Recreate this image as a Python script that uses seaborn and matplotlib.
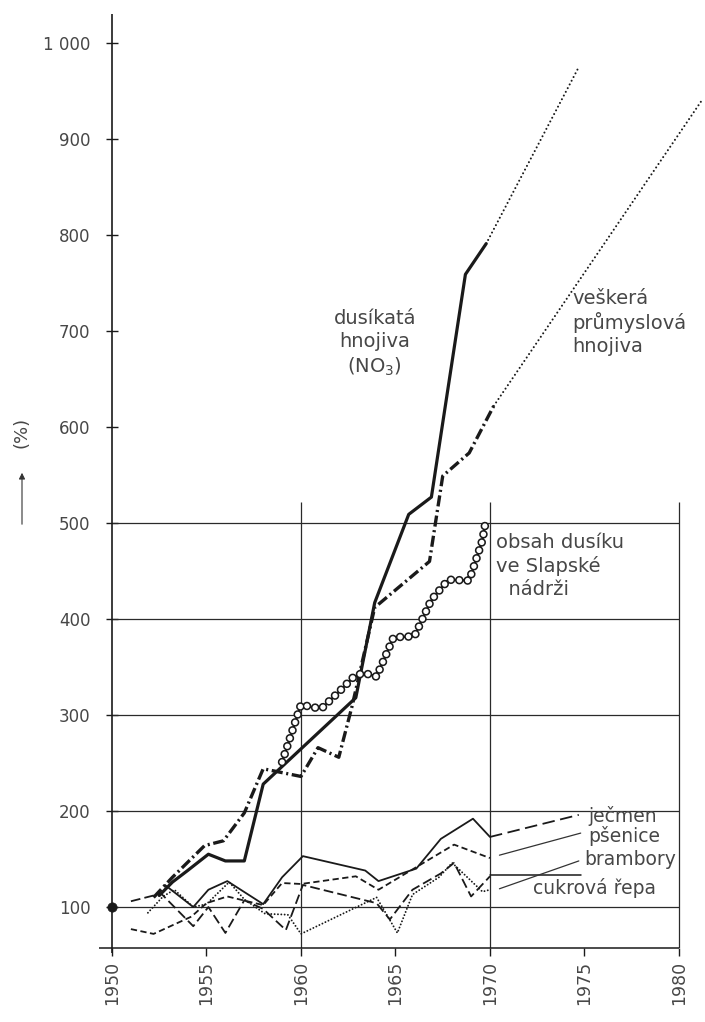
import matplotlib
matplotlib.use("Agg")
import matplotlib.pyplot as plt
import seaborn as sns

# ---------------- data (index, 1950 = 100 %) ----------------
base_year = [1950]
base_val = [100]

no3_years = [1952.5, 1953.2, 1954.0, 1955.1, 1956.0, 1957.0, 1958.0, 1962.9, 1963.9, 1965.7, 1966.9, 1968.7, 1969.8]
no3_vals = [112, 126, 138, 155, 148, 148, 228, 318, 417, 509, 527, 759, 791]
no3_proj_years = [1969.8, 1974.7]
no3_proj_vals = [791, 975]

all_years = [1952.2, 1953.2, 1954.9, 1955.9, 1957.0, 1958.0, 1960.0, 1960.9, 1962.0, 1962.7, 1963.9, 1966.8, 1967.5, 1968.9, 1970.2]
all_vals = [110, 131, 164, 169, 198, 244, 236, 266, 256, 309, 412, 460, 549, 573, 622]
all_proj_years = [1970.2, 1981.2]
all_proj_vals = [622, 940]

res_years = [1959.0, 1960.0, 1960.6, 1961.1, 1962.0, 1962.8, 1963.3, 1964.0, 1964.9, 1966.0, 1966.9, 1967.8, 1968.9, 1969.6, 1969.8]
res_vals = [251, 311, 308, 307, 324, 340, 344, 340, 381, 382, 420, 441, 440, 482, 505]

barley_years = [1952.8, 1954.3, 1955.1, 1956.1, 1958.0, 1959.0, 1960.1, 1963.4, 1964.1, 1966.1, 1967.4, 1969.1, 1970.0]
barley_vals = [123, 100, 118, 127, 103, 131, 153, 138, 127, 140, 171, 192, 173]
barley_ext_years = [1970.0, 1974.7]
barley_ext_vals = [173, 196]

wheat_years = [1951.0, 1952.2, 1953.2, 1954.2, 1955.0, 1956.1, 1958.0, 1959.0, 1960.0, 1962.9, 1964.1, 1968.1, 1970.0]
wheat_vals = [77, 72, 81, 90, 104, 111, 102, 125, 124, 132, 118, 165, 151]
wheat_lead_years = [1970.5, 1974.8]
wheat_lead_vals = [154, 177]

potato_years = [1951.0, 1952.6, 1954.3, 1955.1, 1956.0, 1957.0, 1958.0, 1959.2, 1960.1, 1964.0, 1964.7, 1965.9, 1967.4, 1968.1, 1969.0, 1970.0]
potato_vals = [106, 114, 80, 100, 73, 107, 98, 76, 123, 104, 87, 118, 135, 146, 111, 132]
potato_ext_years = [1970.0, 1974.8]
potato_ext_vals = [133, 133]

beet_years = [1951.9, 1952.7, 1953.3, 1954.3, 1955.0, 1956.2, 1957.0, 1958.1, 1959.3, 1960.0, 1964.0, 1965.1, 1965.9, 1967.3, 1968.0, 1969.6, 1970.0]
beet_vals = [94, 111, 118, 100, 103, 126, 108, 93, 92, 72, 110, 73, 113, 131, 146, 116, 118]
beet_lead_years = [1970.5, 1974.7]
beet_lead_vals = [119, 148]

x_ticks = [1950, 1955, 1960, 1965, 1970, 1975, 1980]
x_labels = ["1950", "1955", "1960", "1965", "1970", "1975", "1980"]
y_ticks = [100, 200, 300, 400, 500, 600, 700, 800, 900, 1000]
y_labels = ["100", "200", "300", "400", "500", "600", "700", "800", "900", "1 000"]
grid_y = [100, 200, 300, 400, 500]
grid_x = [1960, 1970, 1980]

# ---------------- style ----------------
sns.set_theme(style="white")
plt.rcParams['font.family'] = ['DejaVu Sans']
plt.rcParams['lines.scale_dashes'] = False

INK = '#1a1a1a'
TXT = '#474747'

fig = plt.figure(figsize=(7.05, 10.22), dpi=100)
ax = fig.add_axes([0.15887, 0.07211, 0.8404, 0.91399])
ax.set_xlim(1950, 1981.35)
ax.set_ylim(57, 1030)
for s in ax.spines.values():
    s.set_visible(False)
ax.set_facecolor('white')


def line(xs, ys, **kw):
    sns.lineplot(x=xs, y=ys, ax=ax, estimator=None, errorbar=None,
                 sort=False, legend=False, **kw)


# axes lines and grid
ax.vlines(1950, 52, 1030, color=INK, lw=1.2, clip_on=False, zorder=2)
ax.hlines(57, 1949.3, 1980, color=INK, lw=1.1, clip_on=False, zorder=2)
ax.hlines(grid_y, 1950, 1980, color='#2a2a2a', lw=0.9, zorder=1)
ax.vlines(grid_x, 57, 522, color='#2a2a2a', lw=0.9, zorder=1)

# ticks
ax.set_yticks(y_ticks)
ax.set_yticklabels(y_labels)
ax.tick_params(axis='y', direction='inout', length=9, width=1.0, pad=11,
               labelsize=12, color=INK, labelcolor=TXT, left=True)
ax.set_xticks(x_ticks)
ax.set_xticklabels(x_labels, rotation=90)
ax.tick_params(axis='x', direction='out', length=6, width=1.0, pad=3,
               labelsize=12.5, color=INK, labelcolor=TXT, bottom=True)

# crops
line(barley_years, barley_vals, color=INK, linewidth=1.3, zorder=3)
line(barley_ext_years, barley_ext_vals, color=INK, linewidth=1.3,
     linestyle=(0, (9, 4)), zorder=3)
line(wheat_years, wheat_vals, color=INK, linewidth=1.3,
     linestyle=(0, (4.5, 2.5)), zorder=3)
line(wheat_lead_years, wheat_lead_vals, color='#333', linewidth=0.9, zorder=3)
line(potato_years, potato_vals, color=INK, linewidth=1.3,
     linestyle=(0, (7, 3)), zorder=3)
line(potato_ext_years, potato_ext_vals, color=INK, linewidth=1.1, zorder=3)
line(beet_years, beet_vals, color=INK, linewidth=1.4,
     linestyle=(0, (0.01, 2.4)), dash_capstyle='round', zorder=3)
line(beet_lead_years, beet_lead_vals, color='#333', linewidth=0.9, zorder=3)

# fertilisers
line(no3_years, no3_vals, color=INK, linewidth=2.3, zorder=4)
line(no3_proj_years, no3_proj_vals, color=INK, linewidth=1.5,
     linestyle=(0, (0.01, 3.0)), dash_capstyle='round', zorder=4)
line(all_years, all_vals, color=INK, linewidth=2.4,
     linestyle=(0, (8, 2.6, 1.5, 2.6)), zorder=4)
line(all_proj_years, all_proj_vals, color=INK, linewidth=1.5,
     linestyle=(0, (0.01, 3.0)), dash_capstyle='round', zorder=4)

# nitrogen in the reservoir: chain of hollow circles
line(res_years, res_vals, color=INK, linewidth=6.2,
     linestyle=(0, (0.01, 6.0)), dash_capstyle='round', zorder=5)
line(res_years, res_vals, color='white', linewidth=3.9,
     linestyle=(0, (0.01, 6.0)), dash_capstyle='round', zorder=6)

# base point
sns.scatterplot(x=base_year, y=base_val, ax=ax, s=45, color=INK,
                edgecolor=INK, zorder=7, clip_on=False, legend=False)

# annotations
fs = 14
ax.text(1963.9, 687, "dusíkatá\nhnojiva\n(NO$_3$)", ha='center', va='center',
        fontsize=fs, color=TXT, linespacing=1.25)
ax.text(1974.35, 709, "veškerá\nprůmyslová\nhnojiva", ha='left', va='center',
        fontsize=fs, color=TXT, linespacing=1.25, multialignment='left')
ax.text(1970.3, 455, "obsah dusíku\nve Slapské\n  nádrži", ha='left', va='center',
        fontsize=fs, color=TXT, linespacing=1.25, multialignment='left')

fc = 13.5
ax.text(1975.2, 195, "ječmen", ha='left', va='center', fontsize=fc, color=TXT)
ax.text(1975.2, 174, "pšenice", ha='left', va='center', fontsize=fc, color=TXT)
ax.text(1975.0, 150, "brambory", ha='left', va='center', fontsize=fc, color=TXT)
ax.text(1972.3, 120, "cukrová řepa", ha='left', va='center', fontsize=fc, color=TXT)

# y-axis unit with arrow
fig.text(22 / 705, 1 - 432 / 1022, "(%)", rotation=90, ha='center', va='center',
         fontsize=13, color=TXT)
ax.annotate('', xy=(22 / 705, 1 - 470 / 1022), xytext=(22 / 705, 1 - 527 / 1022),
            xycoords='figure fraction', textcoords='figure fraction',
            arrowprops=dict(arrowstyle='-|>', color='#333', lw=0.8, mutation_scale=9))

fig.savefig("out.png", dpi=100)
